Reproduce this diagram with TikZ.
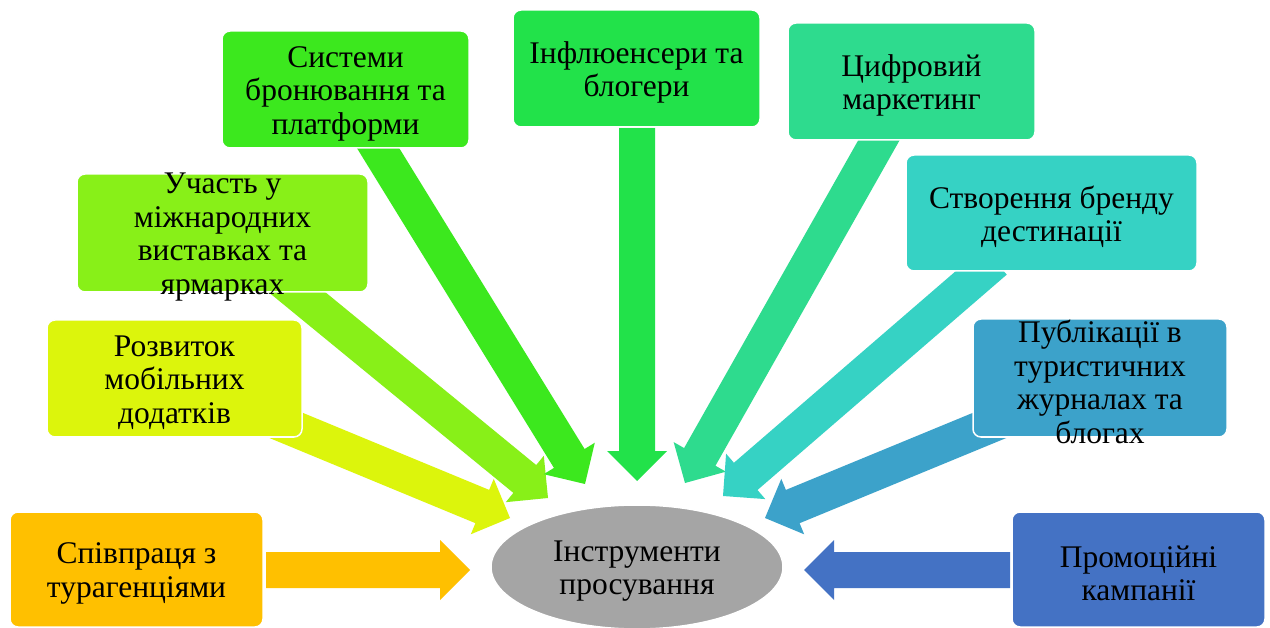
\documentclass[tikz,border=0pt]{standalone}
\usepackage{fontspec}
\setmainfont{Liberation Serif}
\usetikzlibrary{calc,shapes.geometric}
\definecolor{cA}{HTML}{FFC000}
\definecolor{cB}{HTML}{DCF50C}
\definecolor{cC}{HTML}{88F018}
\definecolor{cD}{HTML}{3CE81E}
\definecolor{cE}{HTML}{22E24A}
\definecolor{cF}{HTML}{2EDB8E}
\definecolor{cG}{HTML}{36D2C4}
\definecolor{cH}{HTML}{3CA2CA}
\definecolor{cI}{HTML}{4472C4}
\definecolor{cJ}{HTML}{A5A5A5}
\newcommand\blkarrow[3]{%
  \coordinate (hb) at ($(#2)!30pt!(#1)$);
  \fill[#3] ($(#1)!18pt!90:(#2)$) -- ($(hb)!18pt!-90:(#1)$) -- ($(hb)!30pt!-90:(#1)$)
    -- (#2) -- ($(hb)!30pt!90:(#1)$) -- ($(hb)!18pt!90:(#1)$) -- ($(#1)!18pt!-90:(#2)$) -- cycle;
}
\tikzset{
  box/.style={draw=white, line width=1.5pt, rounded corners=8pt, inner sep=0pt},
  txt/.style={align=center, inner sep=0pt, text=black, yshift=-4pt, font=\fontsize{31.5}{33.5}\selectfont}
}
\begin{document}
\begin{tikzpicture}[x=1pt,y=-1pt]
\useasboundingbox[fill=white] (0,0) rectangle (1270,628);
% arrow end points
\coordinate (a1t) at (266,570);  \coordinate (a1p) at (470,570);
\coordinate (a2t) at (273,420);  \coordinate (a2p) at (510,518);
\coordinate (a3t) at (276,275);  \coordinate (a3p) at (548,498);
\coordinate (a4t) at (370,135);  \coordinate (a4p) at (585,484);
\coordinate (a5t) at (637,128);  \coordinate (a5p) at (637,481);
\coordinate (a6t) at (887,126);  \coordinate (a6p) at (685,483);
\coordinate (a7t) at (995,261);  \coordinate (a7p) at (723,496);
\coordinate (a8t) at (1010,417); \coordinate (a8p) at (765,518);
\coordinate (a9t) at (1010,570); \coordinate (a9p) at (804,570);
% arrows
\blkarrow{a1t}{a1p}{cA}
\blkarrow{a2t}{a2p}{cB}
\blkarrow{a3t}{a3p}{cC}
\blkarrow{a4t}{a4p}{cD}
\blkarrow{a5t}{a5p}{cE}
\blkarrow{a6t}{a6p}{cF}
\blkarrow{a7t}{a7p}{cG}
\blkarrow{a8t}{a8p}{cH}
\blkarrow{a9t}{a9p}{cI}
% boxes
\node[box, fill=cA, minimum width=253pt, minimum height=115pt] (b1) at (136.5,569.5) {};
\node[box, fill=cB, minimum width=255pt, minimum height=117pt] (b2) at (174.5,378.5) {};
\node[box, fill=cC, minimum width=291pt, minimum height=118pt] (b3) at (222.5,233) {};
\node[box, fill=cD, minimum width=247pt, minimum height=117pt] (b4) at (345.5,89.5) {};
\node[box, fill=cE, minimum width=247pt, minimum height=117pt] (b5) at (636.5,68.5) {};
\node[box, fill=cF, minimum width=247pt, minimum height=117pt] (b6) at (911.5,81.5) {};
\node[box, fill=cG, minimum width=291pt, minimum height=116pt] (b7) at (1051.5,213) {};
\node[box, fill=cH, minimum width=254pt, minimum height=118pt] (b8) at (1100,378) {};
\node[box, fill=cI, minimum width=253pt, minimum height=115pt] (b9) at (1138.5,569.5) {};
\node[ellipse, fill=cJ, draw=white, line width=1.5pt, minimum width=292pt, minimum height=124pt, inner sep=0pt] (e) at (637,567) {};
% texts
\node[txt] (t1) at (b1) {Співпраця з\\турагенціями};
\node[txt] (t2) at (b2) {Розвиток\\мобільних\\додатків};
\node[txt] (t3) at (b3) {Участь у\\міжнародних\\виставках та\\ярмарках};
\node[txt] (t4) at (b4) {Системи\\бронювання та\\платформи};
\node[txt] (t5) at (b5) {Інфлюенсери та\\блогери};
\node[txt] (t6) at (b6) {Цифровий\\маркетинг};
\node[txt] (t7) at (b7) {Створення бренду\\дестинації};
\node[txt] (t8) at (b8) {Публікації в\\туристичних\\журналах та\\блогах};
\node[txt] (t9) at (b9) {Промоційні\\кампанії};
\node[txt] (te) at (e) {Інструменти\\просування};
\end{tikzpicture}
\end{document}
